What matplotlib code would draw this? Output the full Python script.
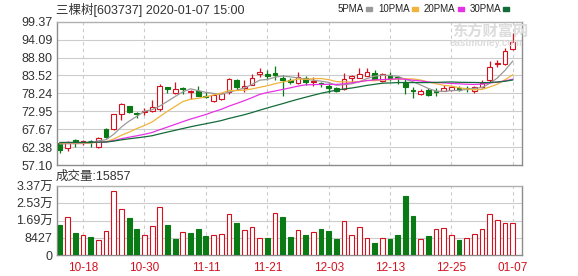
import matplotlib

matplotlib.use("Agg")
import matplotlib.pyplot as plt
import numpy as np
import pandas as pd
from matplotlib.patches import Rectangle

plt.rcParams["font.family"] = ["Liberation Sans", "Noto Sans CJK SC", "DejaVu Sans"]

TITLE = "三棵树[603737] 2020-01-07 15:00"

# closes before the visible window, only used to seed the moving averages
PRE_CLOSE = [63.2, 63.6, 64.1, 63.8, 63.4, 63.9, 64.2, 63.7, 63.5, 63.9,
             64.3, 64.0, 63.6, 63.8, 64.1, 63.9, 63.5, 63.7, 64.0, 64.2,
             63.8, 63.6, 63.9, 64.1, 63.7, 63.5, 63.8, 64.0, 63.6]

DATES = ["10-15", "10-16", "10-17", "10-18", "10-21", "10-22", "10-23", "10-24", "10-25",
         "10-28", "10-29", "10-30", "10-31", "11-01", "11-04", "11-05", "11-06", "11-07",
         "11-08", "11-11", "11-12", "11-13", "11-14", "11-15", "11-18", "11-19", "11-20",
         "11-21", "11-22", "11-25", "11-26", "11-27", "11-28", "11-29", "12-02", "12-03",
         "12-04", "12-05", "12-06", "12-09", "12-10", "12-11", "12-12", "12-13", "12-16",
         "12-17", "12-18", "12-19", "12-20", "12-23", "12-24", "12-25", "12-26", "12-27",
         "12-30", "12-31", "01-02", "01-03", "01-06", "01-07"]

OPEN = [63.5, 62.0, 64.4, 64.0, 64.3, 62.3, 67.6, 67.6, 72.1, 74.5,
        72.5, 72.6, 73.0, 73.5, 80.0, 78.2, 79.8, 78.5, 79.0, 77.6,
        76.0, 76.7, 78.5, 82.3, 79.9, 80.7, 83.8, 83.8, 84.2, 82.8,
        82.2, 81.2, 82.9, 81.7, 81.4, 80.5, 79.7, 79.5, 82.9, 82.8,
        83.5, 84.3, 81.85, 83.6, 83.1, 81.7, 79.3, 78.0, 79.2, 79.0,
        79.0, 79.2, 79.9, 79.9, 78.9, 80.0, 82.1, 87.0, 86.8, 91.2]
HIGH = [63.7, 64.2, 64.9, 64.6, 64.4, 65.4, 67.9, 72.2, 75.3, 74.6,
        72.6, 73.8, 76.3, 81.0, 80.2, 81.7, 80.1, 79.3, 80.4, 78.7,
        77.9, 78.4, 82.9, 82.6, 82.1, 83.9, 85.6, 85.1, 86.3, 83.6,
        82.8, 84.4, 83.3, 83.0, 81.7, 81.2, 80.2, 84.3, 83.6, 85.6,
        85.6, 85.1, 84.3, 84.4, 83.5, 82.9, 80.2, 79.6, 79.9, 79.7,
        80.6, 80.3, 80.3, 80.3, 80.4, 82.1, 87.9, 88.1, 91.5, 95.9]
LOW = [60.7, 61.3, 62.3, 63.0, 62.5, 62.1, 65.2, 67.4, 70.5, 72.3,
       70.9, 71.8, 72.8, 73.0, 78.2, 78.0, 78.0, 76.7, 77.4, 77.0,
       75.7, 76.2, 78.0, 79.2, 78.7, 80.6, 83.1, 82.3, 82.2, 77.4,
       81.0, 81.0, 80.7, 80.4, 80.0, 78.4, 78.6, 79.3, 81.2, 82.7,
       83.4, 82.1, 81.7, 82.0, 81.1, 78.0, 77.0, 77.7, 77.4, 77.4,
       78.8, 79.0, 79.0, 78.6, 78.2, 79.9, 81.6, 86.1, 86.6, 90.9]
CLOSE = [61.5, 64.0, 63.8, 64.3, 64.1, 65.1, 65.4, 72.0, 75.0, 72.7,
         72.2, 72.9, 74.3, 80.4, 79.6, 79.4, 79.6, 78.9, 77.6, 77.2,
         77.7, 78.2, 82.4, 80.2, 80.5, 82.9, 84.6, 83.4, 83.6, 82.3,
         81.6, 83.1, 81.6, 81.9, 81.0, 79.7, 78.9, 82.4, 83.3, 83.9,
         84.6, 82.35, 83.9, 82.8, 82.7, 80.2, 78.8, 79.0, 77.7, 78.7,
         79.9, 80.0, 79.2, 79.4, 80.0, 81.2, 86.1, 87.3, 90.7, 93.5]
VOLUME = [14650, 18400, 10900, 9770, 8800, 7330, 11700, 31260, 22470, 18070,
          12700, 9770, 14160, 23440, 14650, 7815, 11230, 10750, 12700, 9280,
          9770, 10260, 20030, 15630, 12210, 13680, 8140, 8300, 20520, 18560,
          8800, 12210, 9770, 11230, 12700, 11700, 7815, 16600, 9770, 13680,
          8300, 5860, 8300, 7815, 9770, 28800, 19050, 7815, 9280, 12700,
          13190, 9770, 7330, 8300, 10260, 12700, 20030, 17100, 15630, 15857]

DATE_TICKS = ["10-18", "10-30", "11-11", "11-21", "12-03", "12-13", "12-25", "01-07"]
PRICE_TICKS = ["57.10", "62.38", "67.67", "72.95", "78.24", "83.52", "88.80", "94.09", "99.37"]
VOL_TICKS = ["0", "8427", "1.69万", "2.53万", "3.37万"]
MA_NAMES = ["5PMA", "10PMA", "20PMA", "30PMA"]
MA_DAYS = [5, 10, 20, 30]

RED = "#d2121f"
GREEN = "#0a7a14"
MA_COLORS = ["#9a9a9a", "#f0b43c", "#e632e6", "#136b3a"]
GRID = "#cccccc"
SPINE = "#8c8c8c"
TXT = "#333333"

o, h, l, c = (np.array(a) for a in (OPEN, HIGH, LOW, CLOSE))
vol = np.array(VOLUME)
x = np.arange(len(c))
up = c >= o
prev = np.concatenate([[PRE_CLOSE[-1]], c[:-1]])
vol_up = c >= prev
full = pd.Series(PRE_CLOSE + CLOSE)

fig = plt.figure(figsize=(5.78, 2.76), dpi=100)
ax = fig.add_axes([57 / 578, 1 - 165 / 276, 465 / 578, 143.3 / 276])
axv = fig.add_axes([57 / 578, 1 - 255 / 276, 465 / 578, 69 / 276])

tick_pos = [DATES.index(d) for d in DATE_TICKS]

for a in (ax, axv):
    a.set_xlim(-0.4, 60.2)
    for s in a.spines.values():
        s.set_color(SPINE)
        s.set_linewidth(1.0)
    a.spines["top"].set_color("#b0b0b0")
    for t in tick_pos:
        a.axvline(t, color=GRID, lw=0.8, ls=(0, (3, 3)), zorder=0)
    a.tick_params(length=0, labelsize=9, colors=TXT, pad=3)

# price panel
ax.set_ylim(57.10, 99.37)
pt = [float(v) for v in PRICE_TICKS]
ax.set_yticks(pt)
ax.set_yticklabels(PRICE_TICKS)
for v in pt[1:-1]:
    ax.axhline(v, color=GRID, lw=0.8, zorder=0)
ax.set_xticks([])

ax.vlines(x, l, h, colors=np.where(up, RED, GREEN), lw=0.9, zorder=2)
ax.bar(x, np.maximum(np.abs(c - o), 0.06), bottom=np.minimum(o, c), width=0.62,
       facecolor=np.where(up, "white", GREEN), edgecolor=np.where(up, RED, GREEN),
       linewidth=0.8, zorder=3)
for n, col in zip(MA_DAYS, MA_COLORS):
    ma = full.rolling(n).mean().values[-len(c):]
    ax.plot(x, ma, color=col, lw=0.9, zorder=4)

# volume panel
vmax = 33708
axv.set_ylim(0, vmax)
vt = np.linspace(0, vmax, len(VOL_TICKS))
axv.set_yticks(vt)
axv.set_yticklabels(VOL_TICKS)
for v in vt[1:-1]:
    axv.axhline(v, color=GRID, lw=0.8, zorder=0)
axv.bar(x, vol, width=0.62, facecolor=np.where(vol_up, "white", GREEN),
        edgecolor=np.where(vol_up, RED, GREEN), linewidth=0.8, zorder=3)
axv.set_xticks(tick_pos)
axv.set_xticklabels(DATE_TICKS, color=RED, fontsize=8.5)
axv.tick_params(axis="x", pad=5)

# header texts
fig.text(56 / 578, 1 - 10 / 276, TITLE, fontsize=9, color=TXT, va="center", ha="left")
fig.text(56 / 578, 1 - 177 / 276, f"成交量:{VOLUME[-1]}", fontsize=9, color=TXT,
         va="center", ha="left")

# legend: name followed by a small colour swatch, laid out left to right
renderer = fig.canvas.get_renderer()
px = 338
for name, col in zip(MA_NAMES, MA_COLORS):
    t = fig.text(px / 578, 1 - 9 / 276, name, fontsize=7, color="#222222",
                 va="center", ha="left")
    right = t.get_window_extent(renderer).x1
    fig.patches.append(Rectangle(((right + 2) / 578, 1 - 10.5 / 276), 6 / 578, 3 / 276,
                                 transform=fig.transFigure, color=col))
    px = right + 2 + 6 + 6

# watermark
fig.text(452 / 578, 1 - 31 / 276, "东方财富网", fontsize=11, color="#dcdcdc",
         weight="bold", va="center", ha="left")
fig.text(450 / 578, 1 - 42.5 / 276, "eastmoney.com", fontsize=7, color="#dcdcdc",
         weight="bold", va="center", ha="left")

fig.savefig("out.png", dpi=100)
